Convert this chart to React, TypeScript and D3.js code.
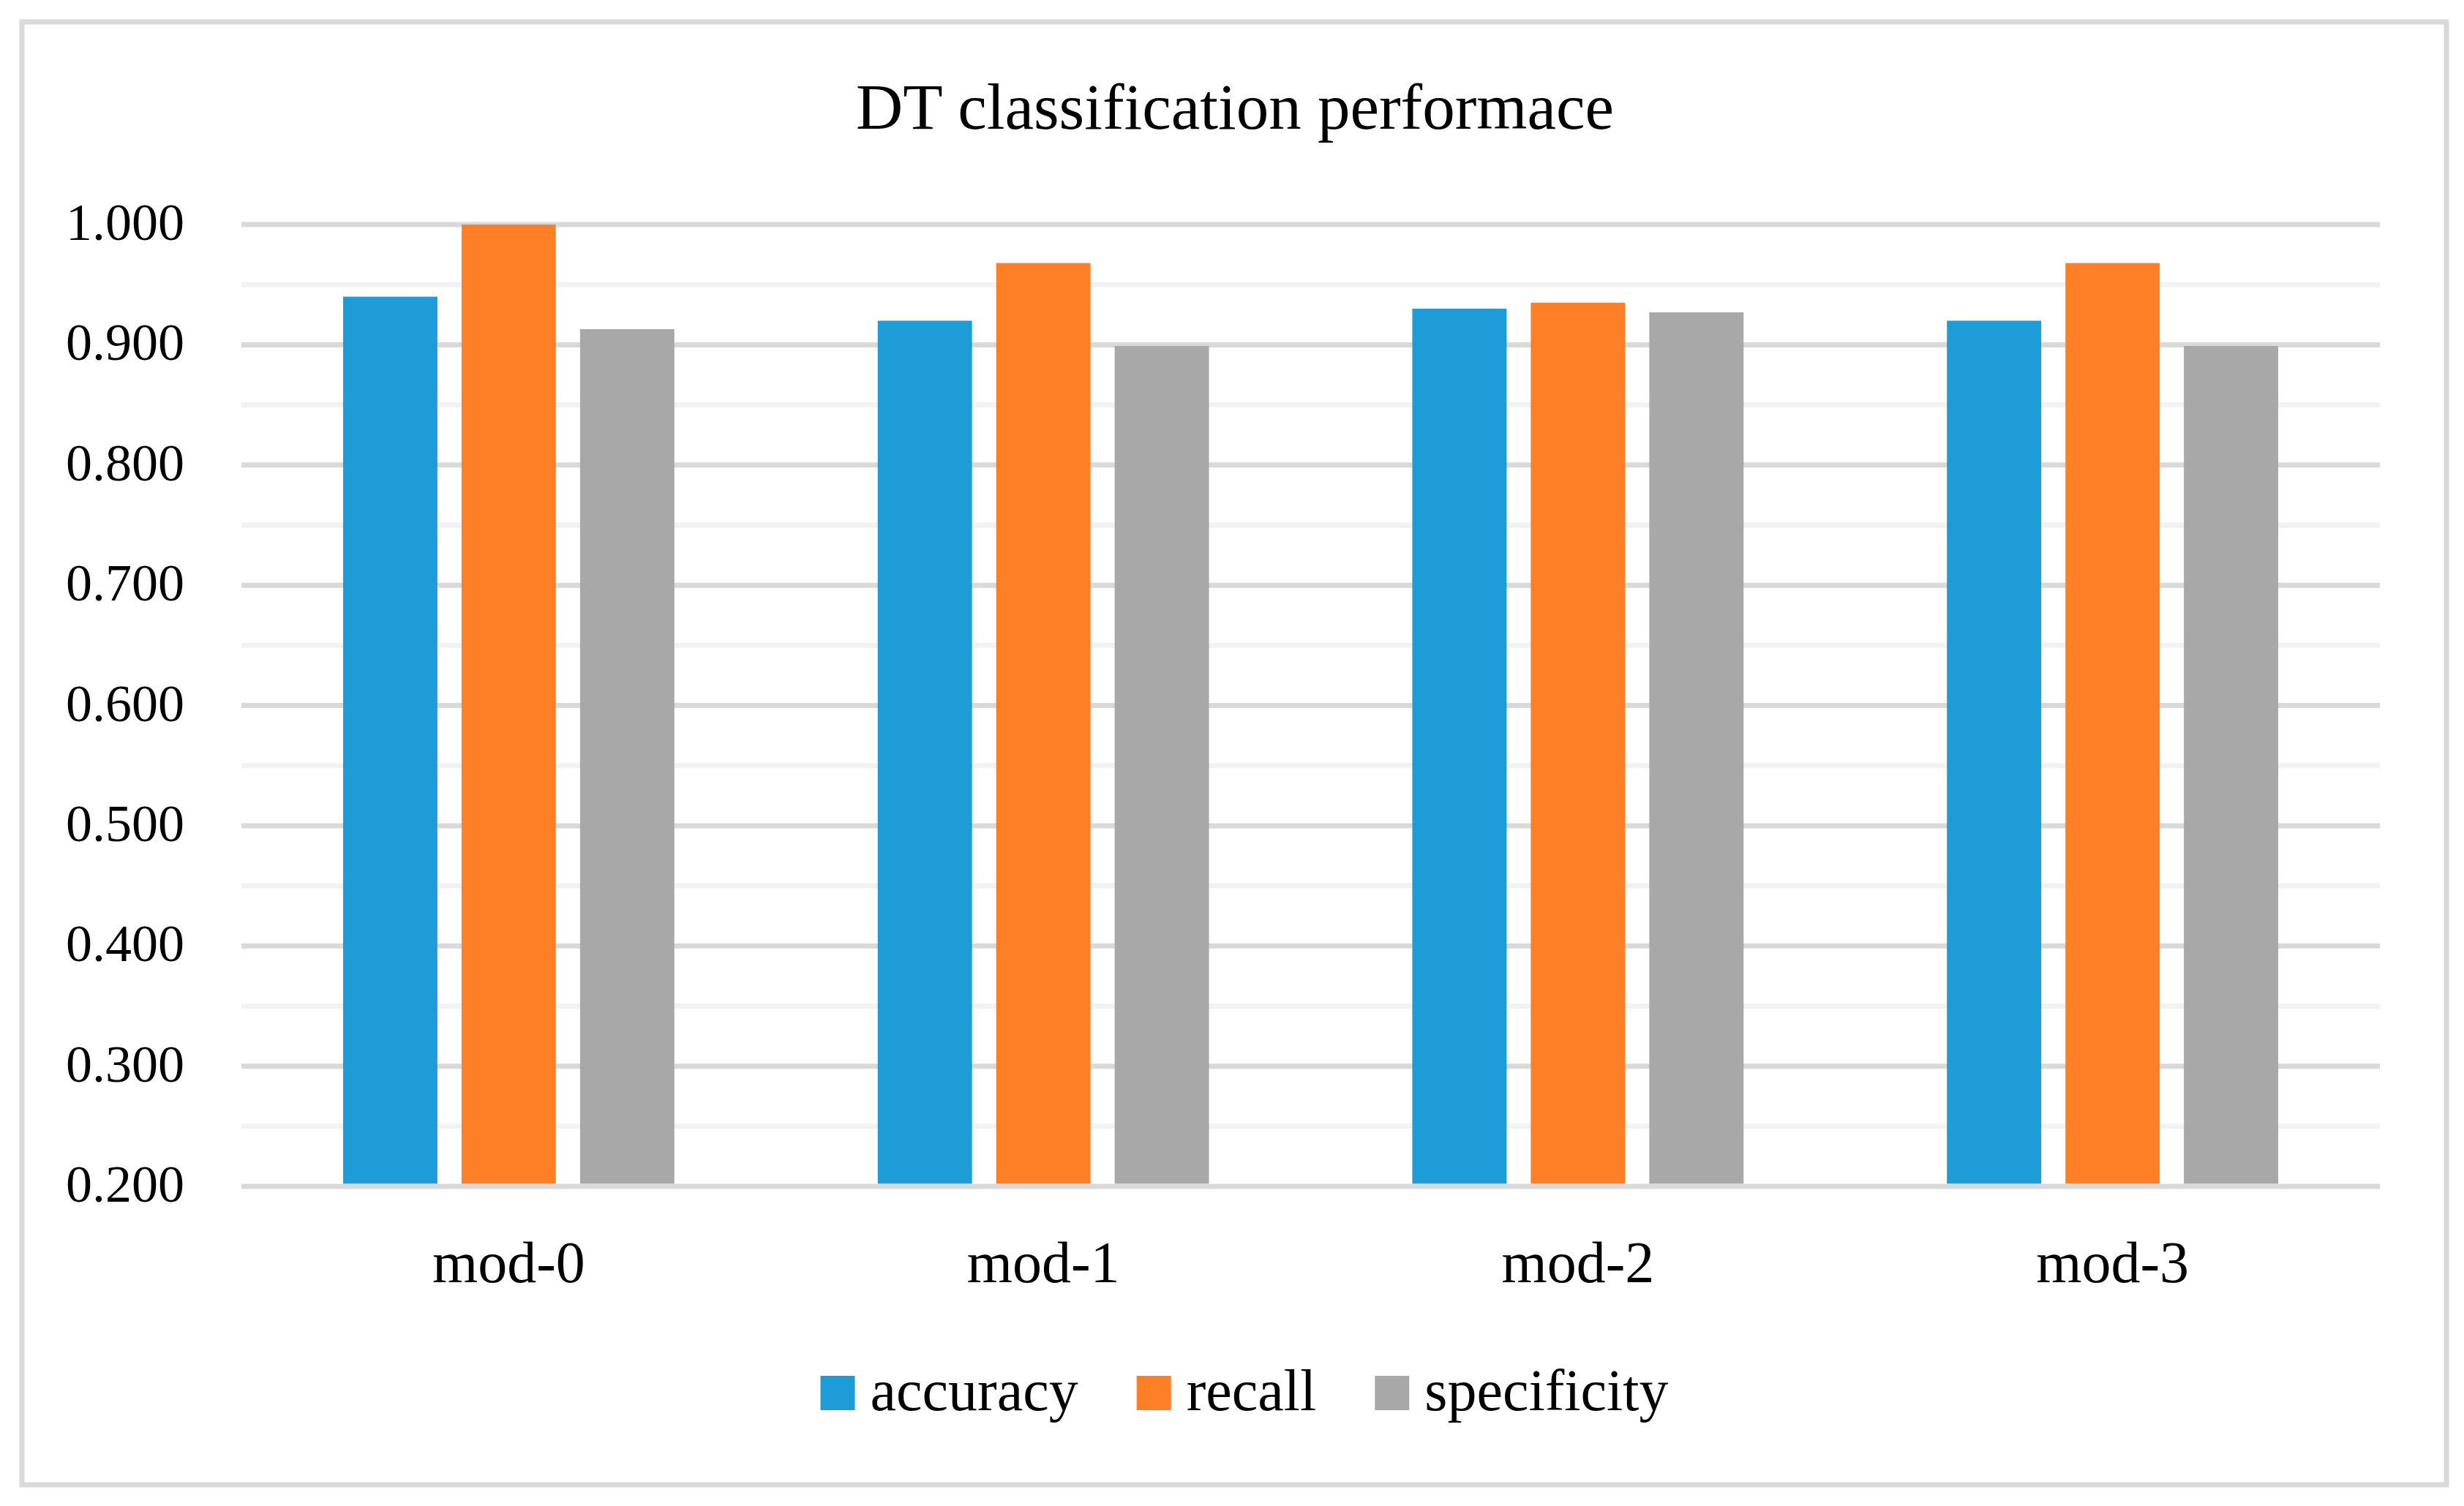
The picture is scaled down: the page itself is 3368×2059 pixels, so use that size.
import React, { useEffect, useRef } from 'react';
import * as d3 from 'd3';

const categories = ['mod-0', 'mod-1', 'mod-2', 'mod-3'];
const seriesNames = ['accuracy', 'recall', 'specificity'];
const accuracy = [0.94, 0.92, 0.93, 0.92];
const recall = [1.0, 0.968, 0.935, 0.968];
const specificity = [0.913, 0.899, 0.927, 0.899];
const majorTicks = [0.2, 0.3, 0.4, 0.5, 0.6, 0.7, 0.8, 0.9, 1.0];
const minorTicks = [0.25, 0.35, 0.45, 0.55, 0.65, 0.75, 0.85, 0.95];
const colors = ['#1e9cd8', '#ff7f27', '#a8a8a8'];

const FONT = '"Liberation Serif", "Times New Roman", serif';

const App: React.FC = () => {
  const svgRef = useRef<SVGSVGElement>(null);

  useEffect(() => {
    document.body.style.margin = '0';
    if (!svgRef.current) return;
    const svg = d3.select(svgRef.current);
    svg.selectAll('*').remove();

    const width = 3368;
    const height = 2059;
    const left = 330, right = 3253, top = 307, bottom = 1622;

    svg.attr('width', width).attr('height', height).style('display', 'block').style('background', '#fff');

    // chart frame
    svg.append('rect')
      .attr('x', 30).attr('y', 30).attr('width', 3314).attr('height', 2000)
      .attr('fill', '#fff').attr('stroke', '#d9d9d9').attr('stroke-width', 7);

    const y = d3.scaleLinear().domain([0.2, 1.0]).range([bottom, top]);
    const x = d3.scaleBand<string>().domain(categories).range([left, right]).padding(0);
    const xs = d3.scaleBand<string>().domain(seriesNames).range([0, x.bandwidth()])
      .paddingInner(0.204).paddingOuter(0.858);

    // gridlines
    svg.append('g').selectAll('line').data(minorTicks).join('line')
      .attr('x1', left).attr('x2', right)
      .attr('y1', d => y(d)).attr('y2', d => y(d))
      .attr('stroke', '#f2f2f2').attr('stroke-width', 7);
    svg.append('g').selectAll('line').data(majorTicks.slice(1)).join('line')
      .attr('x1', left).attr('x2', right)
      .attr('y1', d => y(d)).attr('y2', d => y(d))
      .attr('stroke', '#d9d9d9').attr('stroke-width', 7);

    // bars
    const values = [accuracy, recall, specificity];
    const rows = categories.flatMap((c, i) => seriesNames.map((s, j) => ({ c, s, j, v: values[j][i] })));
    svg.append('g').selectAll('rect').data(rows).join('rect')
      .attr('x', d => (x(d.c) as number) + (xs(d.s) as number))
      .attr('width', xs.bandwidth())
      .attr('y', d => y(d.v))
      .attr('height', d => y(0.2) - 3.5 - y(d.v))
      .attr('fill', d => colors[d.j]);

    // axis baseline
    svg.append('line')
      .attr('x1', left).attr('x2', right).attr('y1', y(0.2)).attr('y2', y(0.2))
      .attr('stroke', '#d9d9d9').attr('stroke-width', 7);

    // y tick labels
    svg.append('g').selectAll('text').data(majorTicks).join('text')
      .attr('x', 252).attr('y', d => y(d) + 21)
      .attr('text-anchor', 'end')
      .style('font-family', FONT).style('font-size', '72px').attr('fill', '#000')
      .text(d => d3.format('.3f')(d));

    // x labels
    svg.append('g').selectAll('text').data(categories).join('text')
      .attr('x', d => (x(d) as number) + x.bandwidth() / 2).attr('y', 1753)
      .attr('text-anchor', 'middle')
      .style('font-family', FONT).style('font-size', '80px').attr('fill', '#000')
      .text(d => d);

    // title
    svg.append('text')
      .attr('x', 1688).attr('y', 176).attr('text-anchor', 'middle')
      .style('font-family', FONT).style('font-size', '89px').attr('fill', '#000')
      .text('DT classification performace');

    // legend
    const legend = svg.append('g');
    const sw = 47, gapText = 21, gapItem = 80, base = 1928;
    let cx = 0;
    seriesNames.forEach((name, i) => {
      const g = legend.append('g').attr('transform', `translate(${cx},0)`);
      g.append('rect').attr('x', 0).attr('y', base - sw).attr('width', sw).attr('height', sw).attr('fill', colors[i]);
      const t = g.append('text').attr('x', sw + gapText).attr('y', base)
        .style('font-family', FONT).style('font-size', '80px').attr('fill', '#000').text(name);
      const w = (t.node() as SVGTextElement).getComputedTextLength();
      cx += sw + gapText + w + gapItem;
    });
    const total = cx - gapItem;
    legend.attr('transform', `translate(${1701 - total / 2},0)`);
  }, []);

  return <svg ref={svgRef} />;
};

export default App;
